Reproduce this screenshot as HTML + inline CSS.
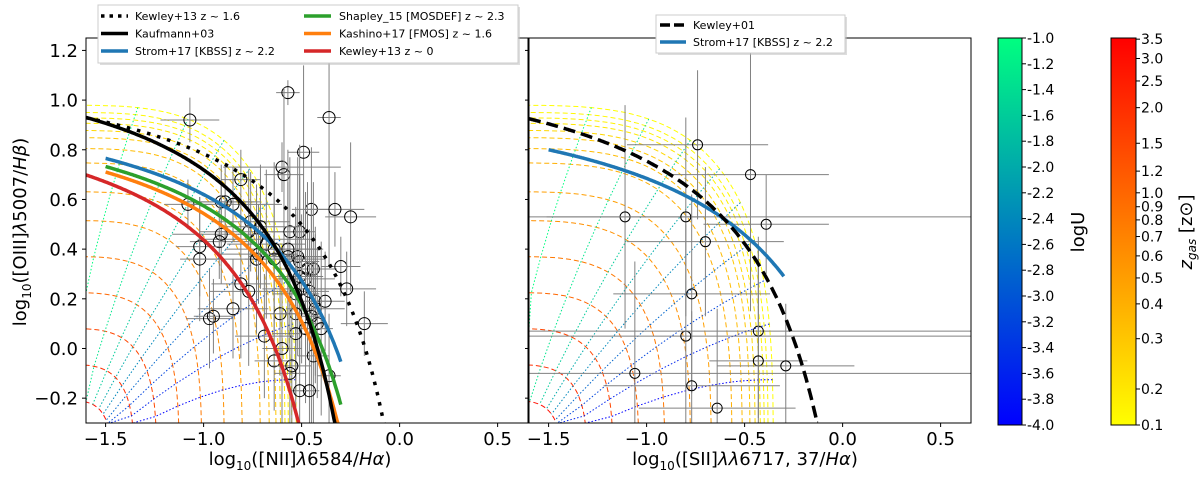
<!DOCTYPE html>
<html><head><meta charset="utf-8"><style>
html,body{margin:0;padding:0;background:#fff;overflow:hidden;width:1200px;height:479px;}
svg{display:block;font-family:"DejaVu Sans","Liberation Sans",sans-serif;}
</style></head><body>
<svg id="fig" width="1200" height="479" viewBox="0 0 1200 479" xmlns="http://www.w3.org/2000/svg" overflow="hidden">
<defs>
<clipPath id="clipL"><rect x="86" y="38" width="442" height="385"/></clipPath>
<clipPath id="clipR"><rect x="529" y="38" width="442" height="385"/></clipPath>
<linearGradient id="gU" x1="0" y1="1" x2="0" y2="0"><stop offset="0" stop-color="#0000ff"/><stop offset="1" stop-color="#00ff80"/></linearGradient>
<linearGradient id="gZ" x1="0" y1="1" x2="0" y2="0"><stop offset="0" stop-color="#ffff00"/><stop offset="1" stop-color="#ff0000"/></linearGradient>
</defs>
<g id="gridL" clip-path="url(#clipL)"></g>
<g id="gridR" clip-path="url(#clipR)"></g>
<g id="dataL" clip-path="url(#clipL)"></g>
<g id="dataR" clip-path="url(#clipR)"></g>
<g id="curvesL" clip-path="url(#clipL)"></g>
<g id="curvesR" clip-path="url(#clipR)"></g>
<rect x="86" y="38" width="442" height="385" fill="none" stroke="#000" stroke-width="1"/>
<rect x="529" y="38" width="442" height="385" fill="none" stroke="#000" stroke-width="1"/>
<g id="axes" font-size="18" fill="#000"></g>
<text x="300" y="465" font-size="18" text-anchor="middle">log<tspan font-size="12" dy="5">10</tspan><tspan dy="-5">([NII]</tspan><tspan font-style="italic">λ</tspan>6584/<tspan font-style="italic">Hα</tspan>)</text>
<text x="745" y="465" font-size="18" text-anchor="middle">log<tspan font-size="12" dy="5">10</tspan><tspan dy="-5">([SII]</tspan><tspan font-style="italic">λλ</tspan>6717, 37/<tspan font-style="italic">Hα</tspan>)</text>
<text transform="translate(26,232) rotate(-90)" font-size="18" text-anchor="middle">log<tspan font-size="12" dy="5">10</tspan><tspan dy="-5">([OIII]</tspan><tspan font-style="italic">λ</tspan>5007/<tspan font-style="italic">Hβ</tspan>)</text>
<g font-size="11">
<rect x="100" y="7" width="420" height="58" fill="#bbb" opacity="0.5"/>
<rect x="98" y="5" width="420" height="58" fill="#fff" stroke="#ccc" stroke-width="1"/>
<g><line x1="101" y1="16" x2="128" y2="16" stroke="#000" stroke-width="3.5" stroke-dasharray="3.5,5"/><text x="135" y="20">Kewley+13 z ~ 1.6</text></g>
<g><line x1="101" y1="33.5" x2="128" y2="33.5" stroke="#000" stroke-width="3.5"/><text x="135" y="37.5">Kaufmann+03</text></g>
<g><line x1="101" y1="51" x2="128" y2="51" stroke="#1f77b4" stroke-width="3.5"/><text x="135" y="55">Strom+17 [KBSS] z ~ 2.2</text></g>
<g><line x1="304" y1="16" x2="331" y2="16" stroke="#2ca02c" stroke-width="3.5"/><text x="339" y="20">Shapley_15 [MOSDEF] z ~ 2.3</text></g>
<g><line x1="304" y1="33.5" x2="331" y2="33.5" stroke="#ff7f0e" stroke-width="3.5"/><text x="339" y="37.5">Kashino+17 [FMOS] z ~ 1.6</text></g>
<g><line x1="304" y1="51" x2="331" y2="51" stroke="#d62728" stroke-width="3.5"/><text x="339" y="55">Kewley+13 z ~ 0</text></g>
</g>
<g font-size="11">
<rect x="658" y="17" width="189" height="38" fill="#bbb" opacity="0.5"/>
<rect x="656" y="15" width="189" height="38" fill="#fff" stroke="#ccc" stroke-width="1"/>
<g><line x1="660" y1="25" x2="686" y2="25" stroke="#000" stroke-width="3.5" stroke-dasharray="10,4"/><text x="693" y="29">Kewley+01</text></g>
<g><line x1="660" y1="42" x2="686" y2="42" stroke="#1f77b4" stroke-width="3.5"/><text x="693" y="46">Strom+17 [KBSS] z ~ 2.2</text></g>
</g>
<rect x="998" y="38" width="24" height="387" fill="url(#gU)" stroke="#000" stroke-width="1"/>
<rect x="1111" y="38" width="25" height="387" fill="url(#gZ)" stroke="#000" stroke-width="1"/>
<g id="cbticks" font-size="14" fill="#000"></g>
<text transform="translate(1084,232) rotate(-90)" font-size="18" text-anchor="middle">logU</text>
<text transform="translate(1192,232) rotate(-90)" font-size="18" text-anchor="middle"><tspan font-style="italic">z</tspan><tspan font-size="12" font-style="italic" dy="4">gas</tspan><tspan dy="-4"> [z⊙]</tspan></text>
</svg>
<script>
// ===== data =====
const xTicks = [-1.5, -1.0, -0.5, 0.0, 0.5];
const yTicks = [-0.2, 0.0, 0.2, 0.4, 0.6, 0.8, 1.0, 1.2];
const xTickLabels = ["−1.5","−1.0","−0.5","0.0","0.5"];
const yTickLabels = ["−0.2","0.0","0.2","0.4","0.6","0.8","1.0","1.2"];
const uTicks = [-1.0,-1.2,-1.4,-1.6,-1.8,-2.0,-2.2,-2.4,-2.6,-2.8,-3.0,-3.2,-3.4,-3.6,-3.8,-4.0];
const zTicks = [0.1,0.2,0.3,0.4,0.5,0.6,0.7,0.8,0.9,1.0,1.2,1.5,2.0,2.5,3.0,3.5];
const zTickFrac = [0,0.093,0.223,0.313,0.380,0.437,0.487,0.530,0.564,0.600,0.656,0.728,0.820,0.889,0.947,0.997];
const niiX = [-1.07,-0.57,-0.36,-0.49,-0.60,-0.59,-0.81,-1.08,-0.91,-0.89,-0.85,-0.45,-0.33,-0.25,-0.76,-0.77,-0.56,-0.51,-0.71,-0.73,-0.91,-0.92,-1.02,-1.02,-0.68,-0.64,-0.64,-0.57,-0.57,-0.52,-0.51,-0.73,-0.72,-0.47,-0.44,-0.30,-0.51,-0.48,-0.50,-0.46,-0.27,-0.81,-0.77,-0.53,-0.43,-0.38,-0.43,-0.85,-0.97,-0.95,-0.61,-0.53,-0.45,-0.42,-0.40,-0.18,-0.48,-0.69,-0.53,-0.60,-0.44,-0.64,-0.55,-0.56,-0.36,-0.51,-0.46];
const niiY = [0.92,1.03,0.93,0.79,0.73,0.70,0.68,0.58,0.59,0.59,0.58,0.56,0.56,0.53,0.51,0.47,0.47,0.47,0.49,0.44,0.46,0.43,0.41,0.36,0.42,0.40,0.36,0.40,0.37,0.37,0.35,0.36,0.38,0.32,0.32,0.33,0.29,0.28,0.24,0.23,0.24,0.26,0.23,0.22,0.19,0.19,0.16,0.16,0.12,0.13,0.14,0.14,0.13,0.10,0.08,0.10,0.08,0.05,0.06,0.00,-0.03,-0.05,-0.07,-0.10,-0.11,-0.17,-0.17];
const niiXerr = [0.15,0.06,0.06,0.08,0.30,0.10,0.10,0.12,0.20,0.15,0.25,0.10,0.15,0.13,0.20,0.25,0.10,0.08,0.20,0.30,0.25,0.15,0.12,0.10,0.20,0.25,0.15,0.15,0.20,0.12,0.10,0.35,0.20,0.15,0.08,0.10,0.12,0.15,0.20,0.10,0.15,0.15,0.20,0.12,0.08,0.10,0.15,0.18,0.12,0.10,0.08,0.08,0.06,0.05,0.06,0.12,0.08,0.15,0.12,0.10,0.08,0.10,0.10,0.08,0.06,0.05,0.05];
const niiYerr = [0.09,0.05,0.60,0.35,0.10,0.35,0.12,0.10,0.15,0.15,0.15,0.25,0.15,0.30,0.20,0.25,0.30,0.35,0.25,0.20,0.20,0.15,0.20,0.25,0.30,0.35,0.25,0.40,0.30,0.40,0.35,0.30,0.20,0.35,0.35,0.12,0.40,0.35,0.30,0.25,0.15,0.30,0.30,0.35,0.30,0.20,0.30,0.20,0.20,0.15,0.25,0.40,0.45,0.30,0.35,0.13,0.30,0.25,0.25,0.30,0.35,0.20,0.30,0.35,0.25,0.20,0.25];
const siiX = [-0.74,-0.47,-1.11,-0.80,-0.39,-0.70,-0.77,-0.80,-0.43,-0.43,-0.29,-1.06,-0.77,-0.64];
const siiY = [0.82,0.70,0.53,0.53,0.50,0.43,0.22,0.05,0.07,-0.05,-0.07,-0.10,-0.15,-0.24];
const siiXerr = [0.36,0.40,0.40,3.00,0.32,0.40,0.40,3.00,3.00,0.25,0.35,3.00,0.45,0.40];
const siiYerr = [0.30,0.55,0.45,0.40,0.20,0.30,0.40,0.45,0.35,0.50,0.25,0.45,0.30,0.40];
const gridZ = [0.1,0.13,0.16,0.2,0.25,0.3,0.35,0.4,0.5,0.6,0.8,1.0,1.5,2.0,3.0];
const gridZr = [1.02,1.0,0.985,0.97,0.95,0.93,0.9,0.86,0.78,0.7,0.6,0.5,0.4,0.3,0.2];
const gridU = [-4.0,-3.6,-3.2,-2.8,-2.4,-2.0,-1.6,-1.3,-1.0];
const gridUang = [6,13,20,28,37,47,58,70,82];
</script>
<script>
const NS="http://www.w3.org/2000/svg";
const P={L:{x0:86},R:{x0:529}};
const XMIN=-1.6,XMAX=0.655,YMIN=-0.3,YMAX=1.25;
const xs=(p,v)=>P[p].x0+(Math.max(XMIN,Math.min(XMAX,v))+1.6)*(442/2.255);
const ys=v=>423-(Math.max(YMIN,Math.min(YMAX,v))+0.3)*(385/1.55);
function el(tag,attrs,parent){const e=document.createElementNS(NS,tag);for(const k in attrs)e.setAttribute(k,attrs[k]);parent.appendChild(e);return e;}
function zColor(z){let i=0;while(i<zTicks.length-2&&z>zTicks[i+1])i++;const f=zTickFrac[i]+(zTickFrac[i+1]-zTickFrac[i])*Math.max(0,Math.min(1,(z-zTicks[i])/(zTicks[i+1]-zTicks[i])));return `rgb(255,${Math.round(255*(1-f))},0)`;}
function uColor(u){const f=(u+4)/3;return `rgb(0,${Math.round(255*f)},${Math.round(255*(1-f/2))})`;}
const ax=document.getElementById('axes');
['L','R'].forEach(p=>{
 xTicks.forEach((v,i)=>{const x=xs(p,v);
  const t=el('line',{x1:x,x2:x,y1:423,y2:427,stroke:'#000'},ax);
  const l=el('text',{x:x,y:445,'text-anchor':'middle'},ax);l.textContent=xTickLabels[i];});
});
yTicks.forEach((v,i)=>{const y=ys(v);
 const t=el('line',{x1:82,x2:86,y1:y,y2:y,stroke:'#000'},ax);
 const l=el('text',{x:78,y:y+6.5,'text-anchor':'end'},ax);l.textContent=yTickLabels[i];
 const t2=el('line',{x1:525,x2:529,y1:y,y2:y,stroke:'#000'},ax);});
const cb=document.getElementById('cbticks');
uTicks.forEach(u=>{const y=425-(u+4)/3*387;
 const t=el('line',{x1:1022,x2:1026,y1:y,y2:y,stroke:'#000'},cb);
 const l=el('text',{x:1027,y:y+5},cb);l.textContent=u.toFixed(1);});
zTicks.forEach((z,i)=>{const y=425-zTickFrac[i]*387;
 const t=el('line',{x1:1136,x2:1140,y1:y,y2:y,stroke:'#000'},cb);
 const l=el('text',{x:1141,y:y+5},cb);l.textContent=z.toFixed(1);});
function gpt(p,r,th){const a=th*Math.PI/180;const c=Math.pow(Math.cos(a),0.6),s=Math.pow(Math.sin(a),0.6);
 const A=p==='L'?1.15:1.32;return [xs(p,-1.7+A*r*c),ys(-0.5+1.45*r*s)];}
['L','R'].forEach(p=>{const g=document.getElementById('grid'+p);
 gridZ.forEach((z,i)=>{let d='';for(let th=0;th<=90;th+=2){const q=gpt(p,gridZr[i],th);d+=(th?'L':'M')+q[0].toFixed(1)+','+q[1].toFixed(1);}
  const e=el('path',{d:d,fill:'none',stroke:zColor(z),'stroke-width':1,'stroke-dasharray':'5,3'},g);});
 gridU.forEach((u,i)=>{let d='';for(let k=0;k<gridZr.length;k++){const q=gpt(p,gridZr[k],gridUang[i]+(1-gridZr[k])*10);d+=(k?'L':'M')+q[0].toFixed(1)+','+q[1].toFixed(1);}
  const e=el('path',{d:d,fill:'none',stroke:uColor(u),'stroke-width':1,'stroke-dasharray':'1.5,2'},g);});
});
function drawObs(p,X,Y,XE,YE,r){const g=document.getElementById('data'+p);
 X.forEach((x,i)=>{const cx=xs(p,x),cy=ys(Y[i]);
  const a=el('line',{x1:xs(p,x-XE[i]),x2:xs(p,x+XE[i]),y1:cy,y2:cy,stroke:'#808080','stroke-width':1},g);
  const b=el('line',{x1:cx,x2:cx,y1:ys(Y[i]-YE[i]),y2:ys(Y[i]+YE[i]),stroke:'#808080','stroke-width':1},g);
  const c=el('circle',{cx:cx,cy:cy,r:r,fill:'none',stroke:'#000','stroke-width':1},g);});}
drawObs('L',niiX,niiY,niiXerr,niiYerr,6);
drawObs('R',siiX,siiY,siiXerr,siiYerr,5);
function curve(p,f,x0,x1,style,name){let d='';let first=true;for(let x=x0;x<=x1+1e-9;x+=0.005){const y=f(x);if(y<YMIN){d+='L'+xs(p,x).toFixed(1)+','+ys(y).toFixed(1);break;}
  d+=(first?'M':'L')+xs(p,x).toFixed(1)+','+ys(y).toFixed(1);first=false;}
 const e=el('path',Object.assign({d:d,fill:'none'},style),document.getElementById('curves'+p));}
curve('L',x=>0.61/(x+0.08)+1.1,-1.6,-0.3,{stroke:'#d62728','stroke-width':3.5},'kewley13-z0-curve');
curve('L',x=>0.61/(x-0.124)+1.086,-1.5,-0.3,{stroke:'#ff7f0e','stroke-width':3.5},'kashino17-curve');
curve('L',x=>0.61/(x-0.16)+1.1,-1.5,-0.3,{stroke:'#2ca02c','stroke-width':3.5},'shapley15-curve');
curve('L',x=>0.61/(x-0.22)+1.12,-1.5,-0.3,{stroke:'#1f77b4','stroke-width':3.5},'strom17-curve');
curve('L',x=>0.61/(x-0.05)+1.3,-1.6,0,{stroke:'#000','stroke-width':3.5},'kauffmann03-curve');
curve('L',x=>0.61/(x-0.313)+1.248,-1.6,0.2,{stroke:'#000','stroke-width':3.5,'stroke-dasharray':'3.5,7'},'kewley13-z16-curve');
curve('R',x=>0.72/(x-0.534)+1.154,-1.5,-0.3,{stroke:'#1f77b4','stroke-width':3.5},'strom17-sii-curve');
curve('R',x=>0.72/(x-0.32)+1.3,-1.6,0.2,{stroke:'#000','stroke-width':3.5,'stroke-dasharray':'12,6'},'kewley01-curve');
</script>
</body></html>
